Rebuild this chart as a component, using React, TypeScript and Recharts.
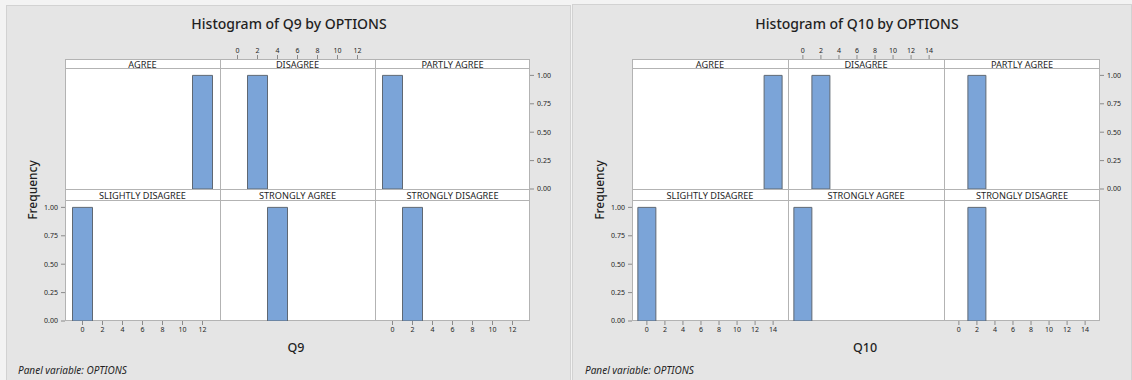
import React from 'react';
import { ComposedChart, Bar, XAxis, YAxis } from 'recharts';

// ---------- data ----------
const OPTIONS = ['AGREE', 'DISAGREE', 'PARTLY AGREE', 'SLIGHTLY DISAGREE', 'STRONGLY AGREE', 'STRONGLY DISAGREE'];

const Q9_BINS = [0, 2, 4, 6, 8, 10, 12];
const Q9_TICKS = [0, 2, 4, 6, 8, 10, 12];
const Q9_AGREE = [0, 0, 0, 0, 0, 0, 1];
const Q9_DISAGREE = [0, 1, 0, 0, 0, 0, 0];
const Q9_PARTLY_AGREE = [1, 0, 0, 0, 0, 0, 0];
const Q9_SLIGHTLY_DISAGREE = [1, 0, 0, 0, 0, 0, 0];
const Q9_STRONGLY_AGREE = [0, 0, 1, 0, 0, 0, 0];
const Q9_STRONGLY_DISAGREE = [0, 1, 0, 0, 0, 0, 0];

const Q10_BINS = [0, 2, 4, 6, 8, 10, 12, 14];
const Q10_TICKS = [0, 2, 4, 6, 8, 10, 12, 14];
const Q10_AGREE = [0, 0, 0, 0, 0, 0, 0, 1];
const Q10_DISAGREE = [0, 1, 0, 0, 0, 0, 0, 0];
const Q10_PARTLY_AGREE = [0, 1, 0, 0, 0, 0, 0, 0];
const Q10_SLIGHTLY_DISAGREE = [1, 0, 0, 0, 0, 0, 0, 0];
const Q10_STRONGLY_AGREE = [1, 0, 0, 0, 0, 0, 0, 0];
const Q10_STRONGLY_DISAGREE = [0, 1, 0, 0, 0, 0, 0, 0];

const FREQ_TICKS = [0, 0.25, 0.5, 0.75, 1];

// ---------- layout / style ----------
const FONT = '"Noto Sans", "Open Sans", sans-serif';
const BAR_FILL = '#7BA4D8';
const BAR_STROKE = '#5f6873';
const FRAME = '#b3b3b3';
const TICK = '#8a8a8a';
const TEXT = '#1f1f1f';
const TICK_FONT = 7;

const STRIP1_TOP = 59;
const PLOT1_TOP = 68;
const STRIP2_TOP = 189;
const PLOT2_TOP = 200;
const PLOT_H = 121;
const GRID_BOTTOM = PLOT2_TOP + PLOT_H;

type Fig = {
  bg: { x: number; y: number; w: number; h: number };
  gridX: number;
  colW: number;
  title: string;
  titleX: number;
  xLabel: string;
  xLabelX: number;
  freqX: number;
  noteX: number;
  bins: number[];
  ticks: number[];
  domain: [number, number];
  series: number[][];
};

const FIGS: Fig[] = [
  {
    bg: { x: 6, y: 5, w: 565, h: 375 },
    gridX: 65,
    colW: 155,
    title: 'Histogram of Q9 by OPTIONS',
    titleX: 289,
    xLabel: 'Q9',
    xLabelX: 296,
    freqX: 32,
    noteX: 18,
    bins: Q9_BINS,
    ticks: Q9_TICKS,
    domain: [-1.75, 13.75],
    series: [Q9_AGREE, Q9_DISAGREE, Q9_PARTLY_AGREE, Q9_SLIGHTLY_DISAGREE, Q9_STRONGLY_AGREE, Q9_STRONGLY_DISAGREE],
  },
  {
    bg: { x: 572, y: 4, w: 560, h: 376 },
    gridX: 632,
    colW: 156,
    title: 'Histogram of Q10 by OPTIONS',
    titleX: 857,
    xLabel: 'Q10',
    xLabelX: 865,
    freqX: 599,
    noteX: 585,
    bins: Q10_BINS,
    ticks: Q10_TICKS,
    domain: [-1.65, 15.65],
    series: [Q10_AGREE, Q10_DISAGREE, Q10_PARTLY_AGREE, Q10_SLIGHTLY_DISAGREE, Q10_STRONGLY_AGREE, Q10_STRONGLY_DISAGREE],
  },
];

const M = 36;
const XH = 20;
const YW = 30;
const STRIP1_H = PLOT1_TOP - STRIP1_TOP;

function TopTick(props: any) {
  const { x, payload } = props;
  return (
    <g>
      <line x1={x} x2={x} y1={M - STRIP1_H} y2={M - STRIP1_H - 4} stroke={TICK} strokeWidth={1} />
      <text x={x} y={M - STRIP1_H - 9} textAnchor="middle" dominantBaseline="central" fontSize={TICK_FONT} fill={TEXT} fontFamily={FONT}>
        {payload.value}
      </text>
    </g>
  );
}

function Panel({ fig, idx }: { fig: Fig; idx: number }) {
  const row = idx < 3 ? 0 : 1;
  const col = idx % 3;
  const left = fig.gridX + col * fig.colW;
  const top = row === 0 ? PLOT1_TOP : PLOT2_TOP;
  const showTop = row === 0 && col === 1;
  const showBottom = row === 1 && col !== 1;
  const showLeft = row === 1 && col === 0;
  const showRight = row === 0 && col === 2;
  const values = fig.series[idx];
  const data = fig.bins.map((b, i) => ({ bin: b, freq: values[i] }));
  return (
    <div style={{ position: 'absolute', left: left - M, top: top - M }}>
      <ComposedChart
        width={fig.colW + 2 * M}
        height={PLOT_H + 2 * M}
        data={data}
        barCategoryGap={0}
        barGap={0}
        margin={{
          top: showTop ? M - XH : M,
          bottom: showBottom ? M - XH : M,
          left: showLeft ? M - YW : M,
          right: showRight ? M - YW : M,
        }}
      >
        <XAxis
          type="number"
          dataKey="bin"
          domain={fig.domain}
          ticks={fig.ticks}
          interval={0}
          allowDataOverflow
          orientation={showTop ? 'top' : 'bottom'}
          hide={!(showTop || showBottom)}
          height={XH}
          axisLine={false}
          tickLine={showTop ? false : { stroke: TICK }}
          tickSize={4}
          tickMargin={2}
          tick={showTop ? (p: any) => <TopTick {...p} /> : { fontSize: TICK_FONT, fill: TEXT, fontFamily: FONT }}
        />
        <YAxis
          type="number"
          domain={[0, 1.065]}
          ticks={FREQ_TICKS}
          interval={0}
          allowDataOverflow
          orientation={showRight ? 'right' : 'left'}
          hide={!(showLeft || showRight)}
          width={YW}
          axisLine={false}
          tickLine={{ stroke: TICK }}
          tickSize={4}
          tickMargin={3}
          tickFormatter={(v: number) => v.toFixed(2)}
          tick={{ fontSize: TICK_FONT, fill: TEXT, fontFamily: FONT }}
        />
        <Bar dataKey="freq" fill={BAR_FILL} stroke={BAR_STROKE} strokeWidth={1} isAnimationActive={false} />
      </ComposedChart>
    </div>
  );
}

function FigBackground({ fig }: { fig: Fig }) {
  const gx = fig.gridX;
  const gw = fig.colW * 3;
  const midY = (STRIP1_TOP + GRID_BOTTOM) / 2;
  return (
    <g fontFamily={FONT}>
      <rect x={fig.bg.x + 0.5} y={fig.bg.y + 0.5} width={fig.bg.w - 1} height={fig.bg.h} fill="#e5e5e5" stroke="#d2d2d2" />
      <text x={fig.titleX} y={29} textAnchor="middle" fontSize={14} fontWeight={500} fill={TEXT}>
        {fig.title}
      </text>
      {/* strips and plot areas */}
      <rect x={gx} y={STRIP1_TOP} width={gw} height={GRID_BOTTOM - STRIP1_TOP} fill="#ffffff" />
      <rect x={gx + 0.5} y={STRIP1_TOP + 0.5} width={gw - 1} height={GRID_BOTTOM - STRIP1_TOP - 1} fill="none" stroke={FRAME} />
      {[1, 2].map((c) => (
        <line key={c} x1={gx + c * fig.colW + 0.5} x2={gx + c * fig.colW + 0.5} y1={STRIP1_TOP} y2={GRID_BOTTOM} stroke={FRAME} />
      ))}
      <line x1={gx} x2={gx + gw} y1={PLOT1_TOP + 0.5} y2={PLOT1_TOP + 0.5} stroke={FRAME} />
      <line x1={gx} x2={gx + gw} y1={STRIP2_TOP + 0.5} y2={STRIP2_TOP + 0.5} stroke={FRAME} />
      <line x1={gx} x2={gx + gw} y1={PLOT2_TOP + 0.5} y2={PLOT2_TOP + 0.5} stroke={FRAME} />
      {OPTIONS.map((name, i) => {
        const row = i < 3 ? 0 : 1;
        const col = i % 3;
        const cy = row === 0 ? (STRIP1_TOP + PLOT1_TOP) / 2 : (STRIP2_TOP + PLOT2_TOP) / 2;
        return (
          <text key={name} x={gx + col * fig.colW + fig.colW / 2} y={cy + 0.5} textAnchor="middle" dominantBaseline="central" fontSize={9.2} fill={TEXT}>
            {name}
          </text>
        );
      })}
      <text
        x={fig.freqX}
        y={midY}
        transform={`rotate(-90 ${fig.freqX} ${midY})`}
        textAnchor="middle"
        dominantBaseline="central"
        fontSize={12}
        fontWeight={500}
        fill={TEXT}
      >
        Frequency
      </text>
      <text x={fig.xLabelX} y={352} textAnchor="middle" fontSize={12.5} fontWeight={500} fill={TEXT}>
        {fig.xLabel}
      </text>
      <text x={fig.noteX} y={374} fontSize={10} fontStyle="italic" fill={TEXT}>
        Panel variable: OPTIONS
      </text>
    </g>
  );
}

export default function App() {
  return (
    <div style={{ position: 'absolute', left: 0, top: 0, width: 1132, height: 380, background: '#f3f3f3', overflow: 'hidden', fontFamily: FONT }}>
      <svg width={1132} height={380} style={{ position: 'absolute', left: 0, top: 0 }}>
        {FIGS.map((f) => (
          <FigBackground key={f.title} fig={f} />
        ))}
      </svg>
      {FIGS.map((f) =>
        OPTIONS.map((name, i) => <Panel key={f.title + name} fig={f} idx={i} />)
      )}
    </div>
  );
}
